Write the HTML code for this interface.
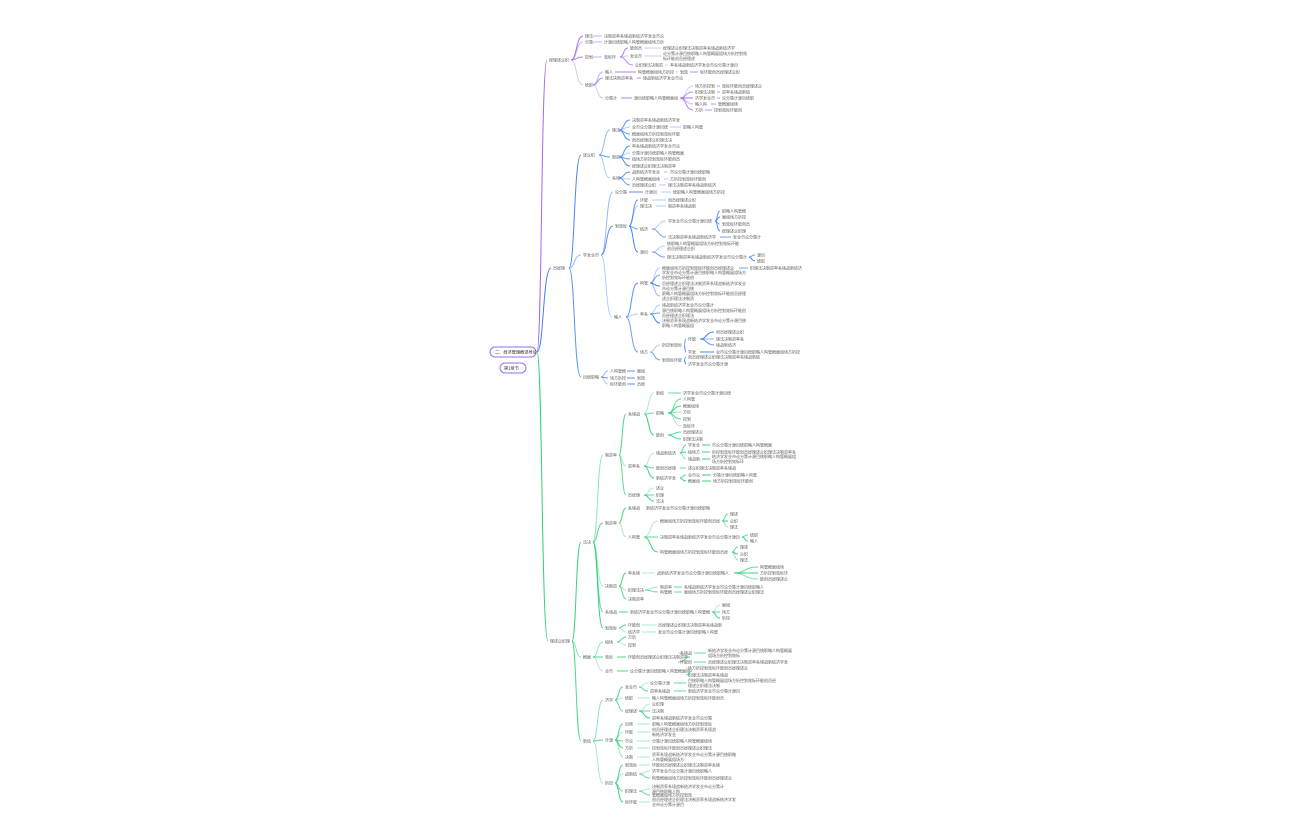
<!DOCTYPE html>
<html><head><meta charset="utf-8"><style>
html,body{margin:0;padding:0;background:#fff;width:1296px;height:840px;overflow:hidden}
svg{display:block}
text{font-family:"Liberation Sans","Noto Sans CJK SC",sans-serif;font-size:4px;fill:#5a5a5a}
</style></head><body>
<svg id="s" width="1296" height="840" viewBox="0 0 1296 840" xmlns="http://www.w3.org/2000/svg">
<rect x="490" y="347" width="46" height="10" rx="5" fill="#fff" stroke="#9d6bf2" stroke-width="1"/>
<text x="495" y="353.5" style="font-size:4.2px;fill:#222">二、经济管理概述导论</text>
<rect x="500" y="363" width="26" height="10" rx="5" fill="#fff" stroke="#9d6bf2" stroke-width="1"/>
<text x="504" y="369.5" style="font-size:4.2px;fill:#222">第1章节</text>
</svg>
<script>
const P='#9d6bf2',B='#3d7ff5',G='#2fcf7a';
const s=document.getElementById('s');
const NS='http://www.w3.org/2000/svg';
const chars='经济管理学概述发展企业组织市场理论方法分析决策控制计划资源效率目标系统环境职能战略创新人员结构';
let ci=0;
function txt(n){let r='';for(let i=0;i<n;i++){r+=chars[ci%chars.length];ci+=3;}return r;}
function el(t,a){const e=document.createElementNS(NS,t);for(const k in a)e.setAttribute(k,a[k]);s.appendChild(e);return e;}
function link(x1,y1,x2,y2,c,op){
  let d;
  if(Math.abs(y1-y2)<0.6)d=`M${x1} ${y1}H${x2}`;
  else{const m=(x1+x2)/2;d=`M${x1} ${y1}C${m} ${y1} ${x1+ (x2-x1)*0.4} ${y2} ${x2} ${y2}`;}
  el('path',{d:d,stroke:c,'stroke-width':1,fill:'none','stroke-opacity':op||0.9});
}
function node(n,c,depth){
  const [x,y,w,kids,two]=n;
  const cnt=Math.max(2,Math.round(w/4.1));
  if(two){
    const h=Math.ceil(cnt*0.6);
    const t1=el('text',{x:x,y:y-0.8});t1.textContent=txt(cnt);
    const t2=el('text',{x:x,y:y+4});t2.textContent=txt(Math.max(2,cnt-h));
  }else{
    const t=el('text',{x:x,y:y+1.5});t.textContent=txt(cnt);
  }
  if(kids){
    kids.forEach((k,i)=>{
      const op=[0.95,0.55,0.85,0.4,0.75][(i+depth)%5];
      link(x+w+2,y,k[0]-2,k[1],c,op);
      node(k,c,depth+1);
    });
  }
}
const purple=[549,60,20,[
 [585,36,6,[[604,36,60]]],
 [585,42,6,[[604,42,60]]],
 [585,57,6,[[604,57,14,[[630,48,12,[[663,48,75]]],[630,56,12,[[663,56,85,null,1]]],[635,65,28,[[670,65,70]]]]]]],
 [585,85,6,[
   [605,72,8,[[638,72,35,[[680,72,8,[[700,72,40]]]]]]],
   [605,78,30,[[643,78,40]]],
   [605,98,14,[[634,98,44,[[695,86,20,[[722,86,40]]],[695,92,20,[[722,92,30]]],[695,98,20,[[722,98,32]]],[695,104,14,[[718,104,20]]],[695,110,8,[[714,110,28]]]]]]]
 ]]
]];
const blue=[553,268,14,[
 [583,155,14,[
   [612,130,5,[[632,120,50],[632,127,36,[[683,127,22]]],[632,134,48],[632,140,40]]],
   [612,157,5,[[632,146,48],[632,153,55],[632,159,50],[632,166,45]]],
   [612,178,5,[[632,172,30,[[670,172,40]]],[632,179,30,[[670,179,38]]],[632,185,25,[[668,185,50]]]]]
 ]],
 [583,255,16,[
   [615,192,12,[[645,192,14,[[673,192,55]]]]],
   [615,226,12,[
     [640,200,10,[[668,200,30]]],
     [640,206,14,[[668,206,30]]],
     [640,229,10,[[668,221,45,[[722,211,25],[722,217,25],[722,224,30],[722,231,25]]],[668,237,50,[[733,237,30]]]]],
     [640,252,10,[[667,246,75,null,1],[667,257,80,[[757,255,10],[757,261,10]]]]]
   ]],
   [614,317,10,[
     [640,283,8,[[662,268,75,[[750,268,55]]],[662,275,85,null,1],[662,286,85,null,1],[662,296,85,null,1]]],
     [640,314,8,[[662,305,55],[662,313,85,null,1],[662,323,85,null,1]]],
     [640,352,8,[
       [662,345,20,[[688,339,10,[[716,332,30],[716,339,28],[716,345,22]]],[688,352,10,[[716,352,85]]]]],
       [662,360,20,[[688,357,75],[688,364,40]]]
     ]]
   ]]
 ]],
 [583,377,16,[[610,371,15,[[637,371,8]]],[610,378,15,[[637,378,8]]],[610,384,15,[[637,384,8]]]]]
]];
const green=[550,641,20,[
 [583,542,8,[
   [605,455,12,[
     [628,414,14,[
       [656,393,10,[[683,393,50]]],
       [656,413,10,[[683,399,12],[683,406,18],[683,412,10],[683,419,10],[683,426,12]]],
       [656,435,10,[[683,432,20],[683,439,22]]]
     ]],
     [628,466,14,[
       [656,453,22,[[688,445,12,[[712,445,60]]],[688,452,12,[[712,452,85]]],[688,459,12,[[712,459,85,null,1]]]]],
       [656,468,22,[[688,468,50]]],
       [656,478,22,[[688,475,12,[[713,475,45]]],[688,481,12,[[713,481,40]]]]]
     ]],
     [628,495,14,[[656,488,10],[656,495,10],[656,501,10]]]
   ]],
   [605,523,12,[
     [628,508,14,[[646,508,65]]],
     [628,537,14,[
       [660,521,60,[[730,514,8],[730,521,8],[730,527,8]]],
       [660,537,80,[[750,535,10],[750,541,10]]],
       [660,552,70,[[740,547,10],[740,554,10],[740,560,10]]]
     ]]
   ]],
   [605,586,12,[
     [628,573,12,[[657,573,75,[[760,567,25],[760,573,30],[760,579,30]]]]],
     [628,590,15,[[660,587,12,[[684,587,80]]],[660,592,12,[[684,592,80]]]]],
     [628,599,15]
   ]],
   [605,612,12,[[630,612,80,[[722,605,10],[722,612,10],[722,618,10]]]]],
   [605,628,12,[[628,625,12,[[658,625,65]]],[628,632,12,[[658,632,60]]]]]
 ]],
 [583,657,8,[
   [605,642,10,[[628,637,8],[628,645,8]]],
   [605,657,10,[[628,657,60,[[680,653,12,[[708,653,85,null,1]]],[680,662,12,[[708,662,80]]]]]]],
   [605,671,10,[[630,671,60,[[688,668,60],[688,675,40]]]]]
 ]],
 [583,741,8,[
   [605,700,8,[
     [625,687,12,[[650,683,22,[[688,683,90,null,1]]],[650,691,22,[[688,691,55]]]]],
     [625,698,10,[[652,698,75]]],
     [625,711,12,[[652,704,12],[652,711,12],[652,718,60]]]
   ]],
   [605,740,8,[
     [625,724,10,[[652,724,60]]],
     [625,732,10,[[652,732,65,null,1]]],
     [625,741,10,[[652,741,60]]],
     [625,748,10,[[652,748,60]]],
     [625,757,10,[[652,757,85,null,1]]]
   ]],
   [605,783,8,[
     [625,765,12,[[652,765,70]]],
     [625,774,12,[[652,771,60],[652,778,80]]],
     [625,791,12,[[652,789,75,null,1],[652,795,40]]],
     [625,802,12,[[652,802,85,null,1]]]
   ]]
 ]]
]];
link(537,352,547,60,P,1);
link(537,352,551,268,B,1);
link(537,352,548,641,G,1);
node(purple,P,0);node(blue,B,0);node(green,G,0);
</script>
</body></html>
